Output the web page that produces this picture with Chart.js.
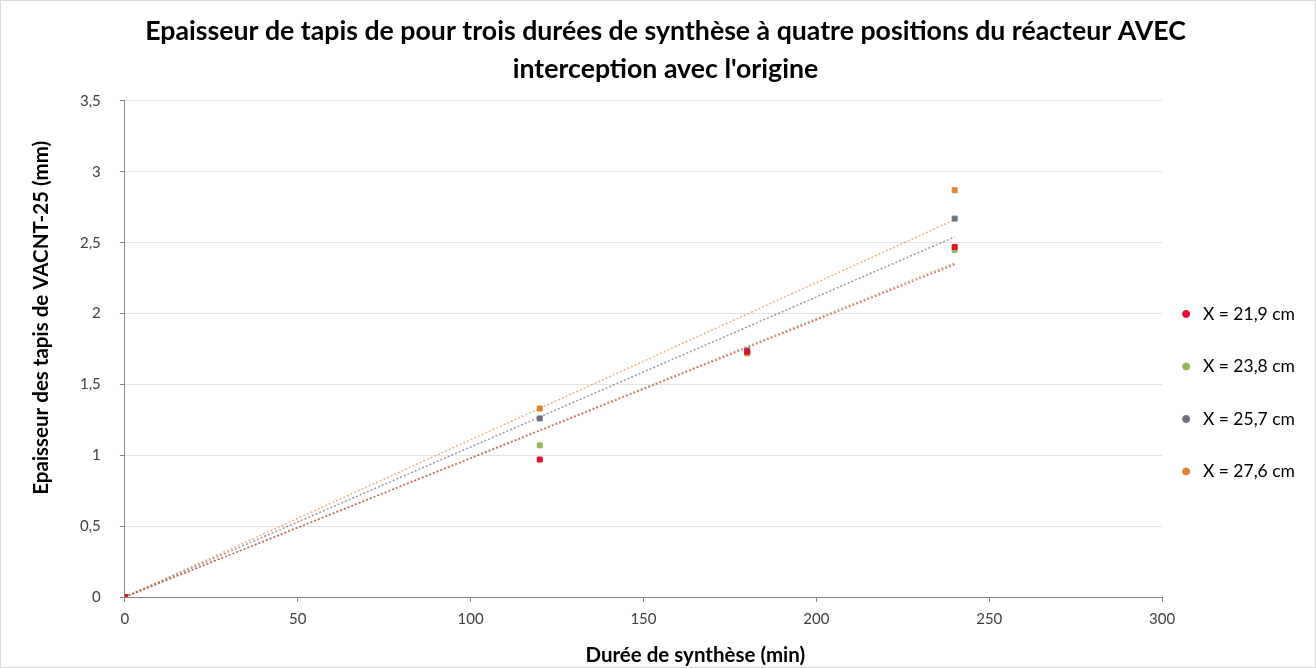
<!DOCTYPE html>
<html>
<head>
<meta charset="utf-8">
<script src="https://cdn.jsdelivr.net/npm/chart.js@4"></script>
<style>
  html, body { margin: 0; padding: 0; background: #fff; }
  #wrap { position: relative; width: 1316px; height: 668px; box-sizing: border-box; border: 1px solid #d9d9d9; }
</style>
</head>
<body>
<div id="wrap"><canvas id="chart"></canvas></div>
<script>
// Data
const durations = [0, 120, 180, 240];
const serieLabels = ['X = 21,9 cm', 'X = 23,8 cm', 'X = 25,7 cm', 'X = 27,6 cm'];
const ep219 = [0, 0.97, 1.73, 2.47];
const ep238 = [0, 1.07, 1.72, 2.45];
const ep257 = [0, 1.26, 1.74, 2.67];
const ep276 = [0, 1.33, 1.72, 2.87];
const xTicks = [0, 50, 100, 150, 200, 250, 300];
const yTicks = [0, 0.5, 1, 1.5, 2, 2.5, 3, 3.5];

const colors = ['#e3102e', '#93b65c', '#6e6e80', '#e2812f'];
const trendColors = ['rgba(227,16,46,0.6)', 'rgba(147,182,92,0.7)', 'rgba(110,110,128,0.7)', 'rgba(226,129,47,0.6)'];
const series = [ep219, ep238, ep257, ep276];

const xTitle = 'Durée de synthèse (min)';
const yTitle = 'Epaisseur des tapis de VACNT-25 (mm)';

// Linear trend forced through the origin (least squares), like the spreadsheet
function slopeThroughOrigin(xs, ys) {
    let sxy = 0, sxx = 0;
    xs.forEach((x, i) => { sxy += x * ys[i]; sxx += x * x; });
    return sxy / sxx;
}

const datasets = [];
series.forEach((vals, i) => {
    datasets.push({
        type: 'scatter',
        label: serieLabels[i],
        data: durations.map((d, j) => ({ x: d, y: vals[j] })),
        backgroundColor: colors[i],
        borderColor: colors[i],
        pointStyle: 'rect',
        pointRadius: 3.5,
        pointHoverRadius: 3.5,
        order: 1
    });
});
series.forEach((vals, i) => {
    const a = slopeThroughOrigin(durations, vals);
    const last = durations[durations.length - 1];
    datasets.push({
        type: 'line',
        label: 'trend',
        data: [{ x: 0, y: 0 }, { x: last, y: a * last }],
        borderColor: trendColors[i],
        borderWidth: 1.5,
        borderDash: [2, 2],
        pointRadius: 0,
        fill: false,
        order: 2
    });
});

const fmt = v => String(v).replace('.', ',');

// axis titles sit a little off-centre in the original, so draw them by hand
const axisTitles = {
    id: 'axisTitles',
    afterLayout(chart) {
        // pull the legend a bit closer to the plot
        chart.legend.left -= 19;
        chart.legend.right -= 19;
    },
    afterDraw(chart) {
        const { ctx, scales } = chart;
        ctx.save();
        ctx.fillStyle = '#000';
        ctx.font = 'bold 20.5px Lato';
        ctx.textAlign = 'center';
        ctx.textBaseline = 'middle';
        ctx.fillText(xTitle, scales.x.getPixelForValue(165), 654);
        ctx.translate(40, scales.y.getPixelForValue(1.97));
        ctx.rotate(-Math.PI / 2);
        ctx.fillText(yTitle, 0, 0);
        ctx.restore();
    }
};

new Chart(document.getElementById('chart'), {
    data: { datasets },
    plugins: [axisTitles],
    options: {
        responsive: true,
        maintainAspectRatio: false,
        animation: false,
        layout: { padding: { left: 6, right: -9, top: 0, bottom: 31 } },
        plugins: {
            title: {
                display: true,
                text: ["Epaisseur de tapis de pour trois durées de synthèse à quatre positions du réacteur AVEC", "interception avec l'origine"],
                font: { family: 'Lato', size: 26.7, weight: 'bold', lineHeight: 1.423 },
                color: '#000',
                padding: { top: 11, bottom: 13 }
            },
            legend: {
                position: 'right',
                title: { display: true, text: ' ', padding: { top: 134, bottom: 0 } },
                labels: {
                    filter: item => item.text !== 'trend',
                    usePointStyle: true,
                    pointStyle: 'circle',
                    boxWidth: 16,
                    boxHeight: 5,
                    padding: 35,
                    color: '#000',
                    font: { family: 'Lato', size: 17.5 }
                }
            },
            tooltip: { enabled: false }
        },
        scales: {
            x: {
                type: 'linear',
                position: 'bottom',
                min: 0,
                max: 300,
                afterBuildTicks: s => { s.ticks = xTicks.map(v => ({ value: v })); },
                ticks: { color: '#404040', font: { family: 'Lato', size: 15 }, padding: 8 },
                grid: { drawOnChartArea: false, color: '#868686', tickLength: 5 },
                border: { color: '#868686' }
            },
            y: {
                min: 0,
                max: 3.5,
                afterBuildTicks: s => { s.ticks = yTicks.map(v => ({ value: v })); },
                afterFit: s => { s.width += 54; },
                ticks: { color: '#404040', font: { family: 'Lato', size: 15 }, padding: 19, callback: v => fmt(v) },
                grid: { color: '#e3e3e3', tickColor: '#868686', tickLength: 5 },
                border: { color: '#868686' }
            }
        }
    }
});
</script>
</body>
</html>
